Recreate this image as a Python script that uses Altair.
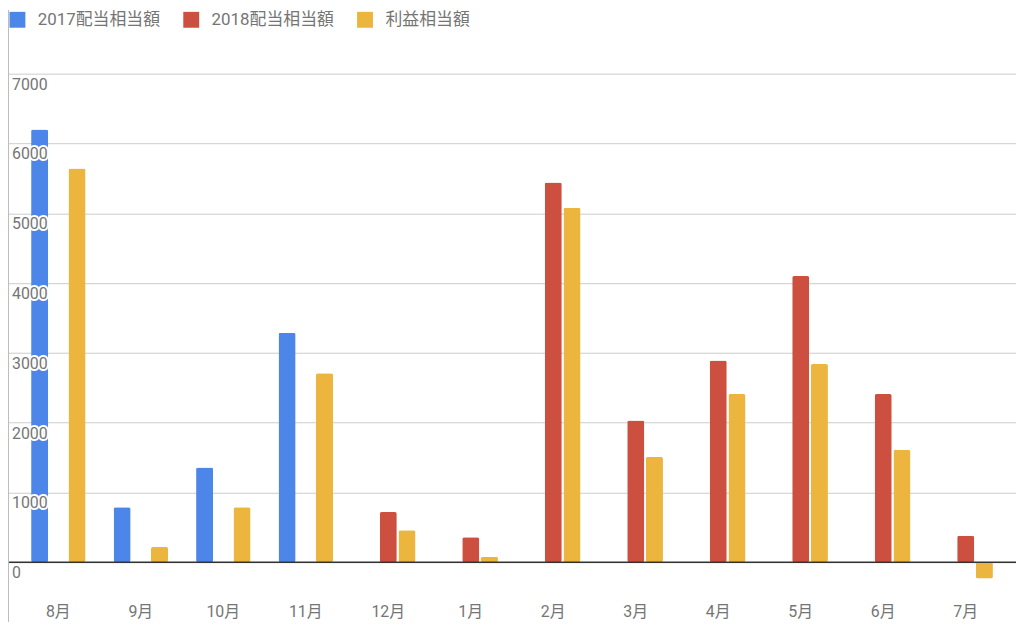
import altair as alt
import pandas as pd

# chart values
months = ['8月', '9月', '10月', '11月', '12月', '1月', '2月', '3月', '4月', '5月', '6月', '7月']
series_names = ['2017配当相当額', '2018配当相当額', '利益相当額']
div_2017 = [6200, 790, 1360, 3290, None, None, None, None, None, None, None, None]
div_2018 = [None, None, None, None, 720, 360, 5440, 2030, 2890, 4100, 2410, 380]
profit = [5640, 220, 790, 2710, 460, 80, 5080, 1510, 2410, 2840, 1610, -230]
y_ticks = [0, 1000, 2000, 3000, 4000, 5000, 6000, 7000]
colors = ['#4d86e9', '#cd4f3f', '#ecb53e']

font = "Roboto, 'Noto Sans CJK JP', sans-serif"
grey = '#757575'

# long table for the grouped bars, missing months left out
rows = []
for name, vals in zip(series_names, [div_2017, div_2018, profit]):
    for m, v in zip(months, vals):
        if v is not None:
            rows.append({'month': m, 'series': name, 'value': v})
df = pd.DataFrame(rows)

ticks_df = pd.DataFrame({'v': y_ticks, 'label': [str(t) for t in y_ticks]})

yscale = alt.Scale(domain=[-540, 7000], nice=False)
y_axis = alt.Axis(values=y_ticks, labels=False, ticks=False, domain=False,
                  grid=True, gridColor='#cccccc', gridWidth=1, title=None)

x_enc = alt.X('month:N', sort=months,
              scale=alt.Scale(domain=months, paddingInner=0.34, paddingOuter=0.28),
              axis=alt.Axis(title=None, labelAngle=0, domain=False, ticks=False, grid=False,
                            labelPadding=4, labelFontSize=16, labelColor=grey, labelFont=font))

bars = alt.Chart(df).mark_bar(cornerRadius=2).encode(
    x=x_enc,
    xOffset=alt.XOffset('series:N', sort=series_names,
                        scale=alt.Scale(domain=series_names, paddingInner=0.09, paddingOuter=0)),
    y=alt.Y('value:Q', scale=yscale, axis=y_axis),
    color=alt.Color('series:N', sort=series_names,
                    scale=alt.Scale(domain=series_names, range=colors),
                    legend=alt.Legend(title=None, orient='none', legendX=1, legendY=-63,
                                      direction='horizontal', symbolType='square',
                                      symbolSize=256, symbolStrokeWidth=0,
                                      labelFontSize=17, labelColor=grey, labelFont=font,
                                      labelOffset=12, columnPadding=22, padding=0))
)

zero_line = alt.Chart(pd.DataFrame({'v': [0]})).mark_rule(color='#333333', strokeWidth=1.5).encode(
    y=alt.Y('v:Q', scale=yscale, axis=y_axis)
)

frame = alt.Chart(pd.DataFrame({'v': [0]})).mark_rule(color='#bdbdbd', strokeWidth=2).encode(
    x=alt.value(0), y=alt.value(-64), y2=alt.value(560)
)

# y labels sit inside the plot with a white halo over the bars
halo = alt.Chart(ticks_df).mark_text(align='left', baseline='alphabetic', dy=16, fontSize=16,
                                     font=font, color='white', stroke='white',
                                     strokeWidth=4, strokeJoin='round').encode(
    x=alt.value(4), y=alt.Y('v:Q', scale=yscale, axis=y_axis), text='label:N'
)
labels = alt.Chart(ticks_df).mark_text(align='left', baseline='alphabetic', dy=16, fontSize=16,
                                       font=font, color=grey).encode(
    x=alt.value(4), y=alt.Y('v:Q', scale=yscale, axis=y_axis), text='label:N'
)

chart = alt.layer(bars, zero_line, frame, halo, labels).properties(
    width=1015,
    height=530,
    autosize=alt.AutoSizeParams(type='none'),
    padding={'left': 0, 'top': 64, 'right': 0, 'bottom': 20},
    background='white'
).configure_view(stroke=None)

chart.save('out.html', embed_options={'renderer': 'svg', 'actions': False})
